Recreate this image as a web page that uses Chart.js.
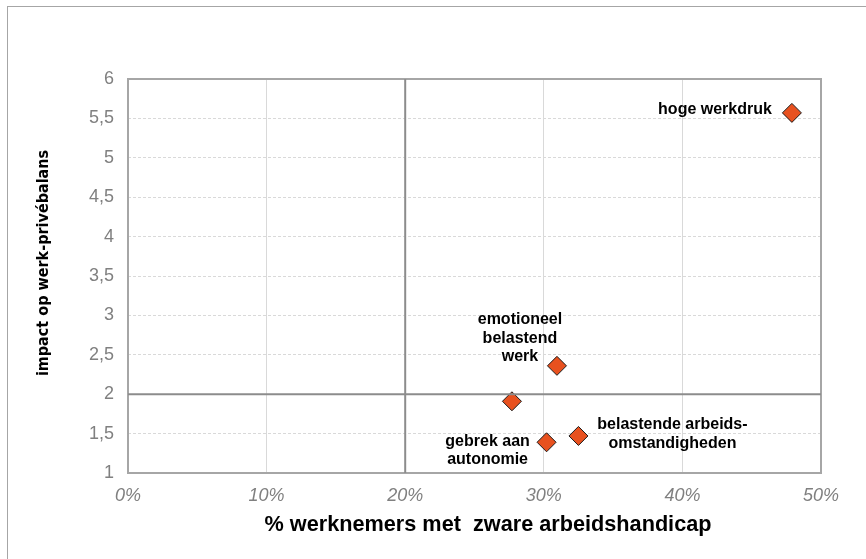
<!DOCTYPE html>
<html>
<head>
<meta charset="utf-8">
<script src="https://cdn.jsdelivr.net/npm/chart.js@4.4.1/dist/chart.umd.min.js"></script>
<style>
  html, body { margin: 0; padding: 0; background: #fff; }
  #wrap { position: relative; width: 866px; height: 559px; }
  #frame { position: absolute; left: 7px; top: 6px; right: 0; bottom: 0; border-top: 1px solid #a6a6a6; border-left: 1px solid #a6a6a6; }
  #c { position: absolute; left: 0; top: 0; }
</style>
</head>
<body>
<div id="wrap">
  <div id="frame"></div>
  <canvas id="c" width="866" height="559"></canvas>
</div>
<script>
// data
const factors = ['hoge werkdruk', 'emotioneel belastend werk', '', 'gebrek aan autonomie', 'belastende arbeids-omstandigheden']
const pctWorkers = [47.9, 30.95, 27.7, 30.2, 32.5]
const impactScores = [5.57, 2.36, 1.91, 1.39, 1.47]
const xTicks = [0, 10, 20, 30, 40, 50]
const yTicks = [1, 1.5, 2, 2.5, 3, 3.5, 4, 4.5, 5, 5.5, 6]
const xTitle = '% werknemers met  zware arbeidshandicap'
const yTitle = 'impact op werk-privébalans'

// how each label sits next to its point (lines, anchor offset, align)
const labelLayout = [
  { lines: ['hoge werkdruk'], dx: -20, dy: -3, align: 'right' },
  { lines: ['emotioneel', 'belastend', 'werk'], dx: -37, dy: -46, align: 'center' },
  { lines: [], dx: 0, dy: 0, align: 'center' },
  { lines: ['gebrek aan', 'autonomie'], dx: -59, dy: -1, align: 'center' },
  { lines: ['belastende arbeids-', 'omstandigheden'], dx: 94, dy: -11, align: 'center' }
]

const points = pctWorkers.map((v, i) => ({ x: v, y: impactScores[i] }))

const extras = {
  id: 'extras',
  beforeDatasetsDraw(chart) {
    const { ctx, chartArea: a } = chart
    ctx.save()
    ctx.strokeStyle = '#a6a6a6'
    ctx.lineWidth = 2
    ctx.strokeRect(a.left, a.top, a.right - a.left, a.bottom - a.top)
    ctx.restore()
  },
  afterDatasetsDraw(chart) {
    const { ctx } = chart
    const meta = chart.getDatasetMeta(2)
    ctx.save()
    ctx.fillStyle = '#000'
    ctx.font = 'bold 16px "Liberation Sans", Arial, sans-serif'
    ctx.textBaseline = 'middle'
    meta.data.forEach((el, i) => {
      const l = labelLayout[i]
      ctx.textAlign = l.align
      l.lines.forEach((t, j) => {
        ctx.fillText(t, el.x + l.dx, el.y + l.dy + j * 18.5)
      })
    })
    // axis titles (x title is a condensed bold in the original, squeeze it)
    ctx.font = 'bold 22px "Liberation Sans", Arial, sans-serif'
    ctx.textAlign = 'center'
    const w = ctx.measureText(xTitle).width
    ctx.save()
    ctx.translate(488, 525)
    ctx.scale(447 / w, 1)
    ctx.fillText(xTitle, 0, 0)
    ctx.restore()
    ctx.translate(44, 263)
    ctx.rotate(-Math.PI / 2)
    ctx.font = 'bold 16px "DejaVu Sans Condensed", "Arial Narrow", sans-serif'
    ctx.fillText(yTitle, 0, 0)
    ctx.restore()
  }
}

new Chart(document.getElementById('c'), {
  type: 'scatter',
  data: {
    datasets: [
      {
        type: 'line',
        data: [{ x: 20, y: 1 }, { x: 20, y: 6 }],
        borderColor: '#8c8c8c', borderWidth: 2, pointRadius: 0
      },
      {
        type: 'line',
        data: [{ x: 0, y: 2 }, { x: 50, y: 2 }],
        borderColor: '#8c8c8c', borderWidth: 2, pointRadius: 0
      },
      {
        data: points,
        pointStyle: 'rectRot',
        radius: 9.5,
        backgroundColor: '#e8511f',
        borderColor: '#1a1a1a',
        borderWidth: 1
      }
    ]
  },
  plugins: [extras],
  options: {
    responsive: false,
    animation: false,
    layout: { padding: { top: 79, right: 45, bottom: 0, left: 0 } },
    plugins: { legend: { display: false }, tooltip: { enabled: false } },
    scales: {
      x: {
        type: 'linear', min: 0, max: 50,
        afterFit(s) { s.height = 86 },
        afterBuildTicks(s) { s.ticks = xTicks.map(v => ({ value: v })) },
        grid: { color: '#d9d9d9', lineWidth: 1, drawTicks: false },
        border: { display: false },
        ticks: {
          padding: 12,
          color: '#808080',
          font: { family: '"Liberation Sans", Arial, sans-serif', size: 18, style: 'italic' },
          callback: v => v + '%'
        }
      },
      y: {
        type: 'linear', min: 1, max: 6,
        afterFit(s) { s.width = 128 },
        afterBuildTicks(s) { s.ticks = yTicks.map(v => ({ value: v })) },
        grid: { color: '#d9d9d9', lineWidth: 1, drawTicks: false },
        border: { display: false, dash: [3, 2] },
        ticks: {
          padding: 14,
          color: '#808080',
          font: { family: '"Liberation Sans", Arial, sans-serif', size: 18 },
          callback: v => String(v).replace('.', ',')
        }
      }
    }
  }
})
</script>
</body>
</html>
